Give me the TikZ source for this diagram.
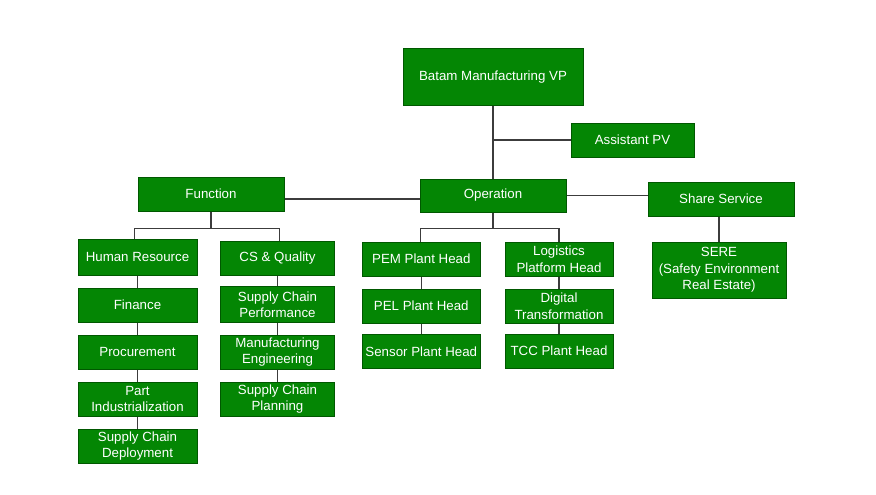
\documentclass[tikz,border=0pt]{standalone}
\usepackage{fontspec}
\setmainfont{Liberation Sans}
\definecolor{boxgreen}{RGB}{4,134,4}
\definecolor{boxedge}{RGB}{0,88,0}
\definecolor{linkgray}{RGB}{60,60,60}
\tikzset{
  unit/.style={draw=boxedge,line width=1pt,fill=boxgreen,text=white,align=center,
    inner sep=1pt,font=\fontsize{13.3}{16.6}\selectfont},
  link/.style={draw=linkgray,line width=1.4pt}
}
\begin{document}
\begin{tikzpicture}[x=1pt,y=-1pt]
        \useasboundingbox (0,0) rectangle (876,495);

        % top
        \node[unit,minimum width=180pt,minimum height=56pt] (vp) at (493,77) {Batam Manufacturing VP};
        \node[unit,minimum width=123pt,minimum height=34pt] (apv) at (632.5,140) {Assistant PV};
        \node[unit,minimum width=146pt,minimum height=34pt] (func) at (211,194) {Function};
        \node[unit,minimum width=146pt,minimum height=33pt] (oper) at (493,195.5) {Operation};
        \node[unit,minimum width=146pt,minimum height=34pt] (share) at (721,199) {Share Service};
        \node[unit,minimum width=134pt,minimum height=56pt] (sere) at (719,270) {SERE\\(Safety Environment\\Real Estate)};

        % function
        \node[unit,minimum width=119pt,minimum height=36pt] (hr) at (137.5,257) {Human Resource};
        \node[unit,minimum width=119pt,minimum height=34pt] (fin) at (137.5,305) {Finance};
        \node[unit,minimum width=119pt,minimum height=34pt] (proc) at (137.5,352) {Procurement};
        \node[unit,minimum width=119pt,minimum height=34pt] (part) at (137.5,399) {Part\\Industrialization};
        \node[unit,minimum width=119pt,minimum height=34pt] (scd) at (137.5,446) {Supply Chain\\Deployment};

        \node[unit,minimum width=114pt,minimum height=34pt] (csq) at (277.5,258) {CS \& Quality};
        \node[unit,minimum width=114pt,minimum height=36pt] (scperf) at (277.5,304.7) {Supply Chain\\Performance};
        \node[unit,minimum width=114pt,minimum height=34pt] (meng) at (277.5,352) {Manufacturing\\Engineering};
        \node[unit,minimum width=114pt,minimum height=34pt] (scplan) at (277.5,399) {Supply Chain\\Planning};

        % operation
        \node[unit,minimum width=118pt,minimum height=34pt] (pem) at (421.3,259) {PEM Plant Head};
        \node[unit,minimum width=118pt,minimum height=34pt] (pel) at (421.3,306) {PEL Plant Head};
        \node[unit,minimum width=118pt,minimum height=34pt] (sens) at (421.3,351.5) {Sensor Plant Head};

        \node[unit,minimum width=108pt,minimum height=34pt] (logi) at (559,259) {Logistics\\Platform Head};
        \node[unit,minimum width=108pt,minimum height=34pt] (digi) at (559,306) {Digital\\Transformation};
        \node[unit,minimum width=108pt,minimum height=34pt] (tcc) at (559,351) {TCC Plant Head};

        % links
        \draw[link] (vp.south) -- (oper.north);
        \draw[link] (apv.west) -- (apv.west -| vp.south);
        \draw[link] ([yshift=-5pt]func.east) -- ([yshift=-5pt]func.east -| oper.west);
        \draw[link] (oper.east) -- (oper.east -| share.west);
        \draw[link] (sere.north) -- (sere.north |- share.south);

        \draw[link] (func.south) -- ++(0,17) coordinate (fbus);
        \draw[link] (fbus) -| ([xshift=-3pt]hr.north);
        \draw[link] (fbus) -| ([xshift=2pt]csq.north);
        \draw[link] (oper.south) -- ++(0,16) coordinate (obus);
        \draw[link] (obus) -| ([xshift=-1pt]pem.north);
        \draw[link] (obus) -| (logi.north);

        \draw[link] (hr.south) -- (fin.north);
        \draw[link] (fin.south) -- (proc.north);
        \draw[link] (proc.south) -- (part.north);
        \draw[link] (part.south) -- (scd.north);
        \draw[link] (csq.south) -- (scperf.north);
        \draw[link] (scperf.south) -- (meng.north);
        \draw[link] (meng.south) -- (scplan.north);
        \draw[link] (pem.south) -- (pel.north);
        \draw[link] (pel.south) -- (sens.north);
        \draw[link] (logi.south) -- (digi.north);
        \draw[link] (digi.south) -- (tcc.north);

\end{tikzpicture}
\end{document}
